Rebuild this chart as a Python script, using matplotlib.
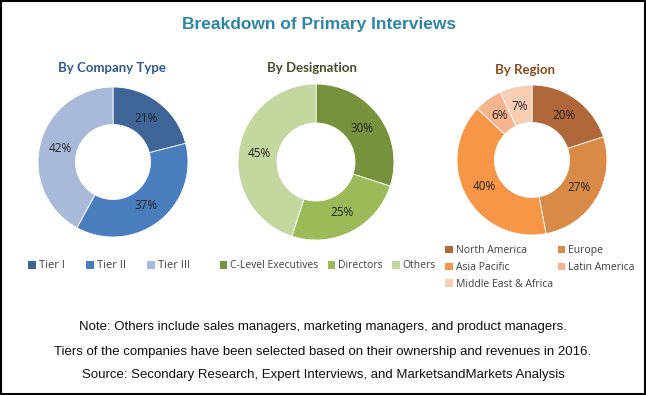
import matplotlib
matplotlib.use("Agg")
import matplotlib.pyplot as plt
from matplotlib.patches import Patch, Rectangle
import numpy as np

W, H = 646, 395

# Data
company_labels = ["Tier I", "Tier II", "Tier III"]
company_values = [21, 37, 42]
company_colors = ["#3E6498", "#4A7DBE", "#A9B9D9"]

desig_labels = ["C-Level Executives", "Directors", "Others"]
desig_values = [30, 25, 45]
desig_colors = ["#76923C", "#9BBB59", "#C4D79F"]

region_labels = ["North America", "Europe", "Asia Pacific", "Latin America", "Middle East & Africa"]
region_values = [20, 27, 40, 6, 7]
region_colors = ["#B0683A", "#D98A46", "#F79646", "#F6B48E", "#F9CDB3"]

title = "Breakdown of Primary Interviews"
subtitles = ["By Company Type", "By Designation", "By Region"]
notes = [
    "Note: Others include sales managers, marketing managers, and product managers.",
    "Tiers of the companies have been selected based on their ownership and revenues in 2016.",
    "Source: Secondary Research, Expert Interviews, and MarketsandMarkets Analysis",
]

fig = plt.figure(figsize=(W / 100, H / 100), dpi=100)
fig.patch.set_facecolor("white")

def fx(x):
    return x / W

def fy(y):
    return 1 - y / H

def donut(cx, cy, r, values, colors):
    ax = fig.add_axes([fx(cx - r), fy(cy + r), (2 * r) / W, (2 * r) / H])
    ax.pie(values, colors=colors, startangle=90, counterclock=False,
           radius=1.0, wedgeprops=dict(width=0.5, edgecolor="white", linewidth=0.6))
    total = sum(values)
    cum = 0
    for v in values:
        mid = 90 - 360 * (cum + v / 2) / total
        cum += v
        rr = 0.73
        ax.text(rr * np.cos(np.radians(mid)), rr * np.sin(np.radians(mid)), f"{v}%",
                ha="center", va="center", fontsize=8.5, color="#222222",
                family=["Open Sans", "DejaVu Sans"])
    ax.set_xlim(-1, 1)
    ax.set_ylim(-1, 1)
    ax.set_aspect("equal")
    return ax

donut(113, 162, 75, company_values, company_colors)
donut(316, 162, 78, desig_values, desig_colors)
donut(532, 160, 75, region_values, region_colors)

# Title
fig.text(fx(319), fy(25), title, ha="center", va="center", fontsize=12.5, fontweight="bold",
         color="#2E86A4", family=["Liberation Sans", "DejaVu Sans"])

sub_cfg = [(112, 68, "#2F5A8A"), (312, 68, "#4B4B2B"), (525, 70, "#8C4A1E")]
for (x, y, c), s in zip(sub_cfg, subtitles):
    fig.text(fx(x), fy(y), s, ha="center", va="center", fontsize=9.5, fontweight="bold",
             color=c, family=["Lato", "DejaVu Sans"])

def legend(labels, colors, anchor, ncol, loc, size=7.5, colsp=0.9, lsp=0.35):
    handles = [Patch(facecolor=c, edgecolor="none") for c in colors]
    fig.legend(handles, labels, loc=loc, bbox_to_anchor=anchor, ncol=ncol, frameon=False,
               prop={"family": ["Open Sans", "DejaVu Sans"], "size": size},
               handlelength=0.7, handleheight=0.7, handletextpad=0.3,
               columnspacing=colsp, labelspacing=lsp, borderpad=0, labelcolor="#404040")

legend(company_labels, company_colors, (fx(109), fy(266)), 3, "center", size=8, colsp=1.9)
legend(desig_labels, desig_colors, (fx(328), fy(266)), 3, "center")

# region legend: row-major order as in the reference (two columns)
order = [0, 2, 4, 1, 3]
legend([region_labels[i] for i in order], [region_colors[i] for i in order],
       (fx(440), fy(240)), 2, "upper left", size=7.5, colsp=0.5, lsp=0.55)

for t, y in zip(notes, [327, 352, 375]):
    fig.text(fx(323), fy(y), t, ha="center", va="center", fontsize=9.5, color="#111111",
             family=["Liberation Sans", "DejaVu Sans"])

fig.add_artist(Rectangle((0.0015, 0.0025), 0.997, 0.995, transform=fig.transFigure,
                         fill=False, edgecolor="black", linewidth=1.5))

fig.savefig("out.png", dpi=100, facecolor="white")
